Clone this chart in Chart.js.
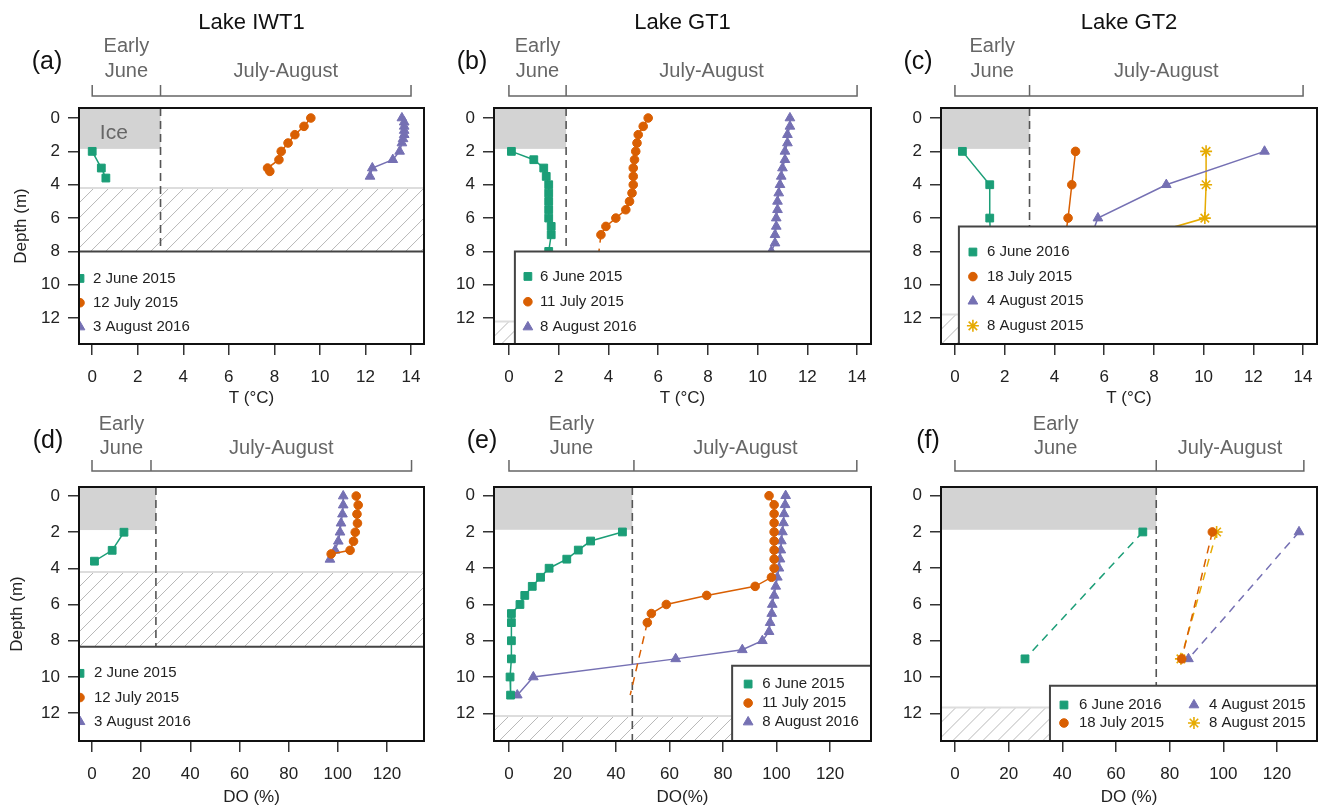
<!DOCTYPE html>
<html>
<head>
<meta charset="utf-8">
<script src="https://cdn.jsdelivr.net/npm/chart.js@4.4.1/dist/chart.umd.min.js"></script>
<style>
html, body { margin: 0; padding: 0; background: #fff; }
#wrap { position: relative; width: 1325px; height: 809px; }
#wrap canvas { position: absolute; left: 0; top: 0; }
</style>
</head>
<body>
<div id="wrap">
<canvas id="pa" width="1325" height="809"></canvas>
<canvas id="pb" width="1325" height="809"></canvas>
<canvas id="pc" width="1325" height="809"></canvas>
<canvas id="pd" width="1325" height="809"></canvas>
<canvas id="pe" width="1325" height="809"></canvas>
<canvas id="pf" width="1325" height="809"></canvas>
</div>
<script>
// tick labels
var tempTicks = [0, 2, 4, 6, 8, 10, 12, 14];
var doTicks = [0, 20, 40, 60, 80, 100, 120];
var depthTicks = [0, 2, 4, 6, 8, 10, 12];
var lakeNames = ["Lake IWT1", "Lake GT1", "Lake GT2"];

// (a) Lake IWT1, temperature
var iwtTempDepthJun = [2, 3, 3.6];
var iwtTempJun = [0.0, 0.4, 0.6];
var iwtTempDepthJul = [0, 0.5, 1, 1.5, 2, 2.5, 3, 3.2];
var iwtTempJul = [9.6, 9.3, 8.9, 8.6, 8.3, 8.2, 7.7, 7.8];
var iwtTempDepthAug = [0, 0.25, 0.5, 0.75, 1, 1.25, 1.5, 2, 2.5, 3, 3.5];
var iwtTempAug = [13.6, 13.7, 13.7, 13.7, 13.7, 13.65, 13.6, 13.5, 13.2, 12.3, 12.2];

// (b) Lake GT1, temperature
var gt1TempDepthJun = [2, 2.5, 3, 3.5, 4, 4.5, 5, 5.5, 6, 6.5, 7, 8];
var gt1TempJun = [0.1, 1.0, 1.4, 1.5, 1.6, 1.6, 1.6, 1.6, 1.6, 1.7, 1.7, 1.6];
var gt1TempDepthJul = [0, 0.5, 1, 1.5, 2, 2.5, 3, 3.5, 4, 4.5, 5, 5.5, 6, 6.5, 7, 9.5];
var gt1TempJul = [5.6, 5.4, 5.2, 5.15, 5.1, 5.05, 5.0, 5.0, 5.0, 4.95, 4.85, 4.7, 4.3, 3.9, 3.7, 3.5];
var gt1TempDepthAug = [0, 0.5, 1, 1.5, 2, 2.5, 3, 3.5, 4, 4.5, 5, 5.5, 6, 6.5, 7, 7.5, 8];
var gt1TempAug = [11.3, 11.3, 11.2, 11.2, 11.1, 11.1, 11.0, 10.95, 10.9, 10.85, 10.8, 10.8, 10.75, 10.75, 10.7, 10.7, 10.55];

// (c) Lake GT2, temperature
var gt2TempDepth = [2, 4, 6, 8];
var gt2TempJun = [0.3, 1.4, 1.4, 1.45];
var gt2TempJul = [4.85, 4.7, 4.55, 4.35];
var gt2TempAug4 = [12.45, 8.5, 5.75, 5.25];
var gt2TempAug8 = [10.1, 10.1, 10.05, 5.4];

// (d) Lake IWT1, dissolved oxygen
var iwtDoDepthJun = [2, 3, 3.6];
var iwtDoJun = [13, 8.2, 1];
var iwtDoDepthJul = [0, 0.5, 1, 1.5, 2, 2.5, 3, 3.2];
var iwtDoJul = [107.5, 108.3, 107.8, 108, 107.1, 106.4, 105, 97.3];
var iwtDoDepthAug = [0, 0.5, 1, 1.5, 2, 2.5, 3, 3.5];
var iwtDoAug = [102.2, 102.2, 101.9, 101.3, 100.9, 100.2, 98.9, 96.8];

// (e) Lake GT1, dissolved oxygen
var gt1DoDepthJun = [2, 2.5, 3, 3.5, 4, 4.5, 5, 5.5, 6, 6.5, 7, 8, 9, 10, 11];
var gt1DoJun = [42.4, 30.5, 25.9, 21.6, 15, 11.8, 8.7, 5.9, 4.1, 0.9, 0.9, 0.9, 0.9, 0.4, 0.6];
var gt1DoDepthJul = [0, 0.5, 1, 1.5, 2, 2.5, 3, 3.5, 4, 4.5, 5, 5.5, 6, 6.5, 7, 11];
var gt1DoJul = [97.2, 99.1, 99.1, 99.1, 99.1, 99.1, 99.1, 99.1, 99.1, 98.1, 92, 73.9, 58.8, 53.2, 51.7, 45.3];
var gt1DoDepthAug = [0, 0.5, 1, 1.5, 2, 2.5, 3, 3.5, 4, 4.5, 5, 5.5, 6, 6.5, 7, 7.5, 8, 8.5, 9, 10, 11];
var gt1DoAug = [103.4, 103.2, 102.8, 102.6, 102.2, 101.8, 101.6, 101.3, 100.9, 100.3, 99.7, 99.1, 98.4, 98.2, 97.6, 97.2, 94.7, 87.2, 62.3, 9.1, 3.1];

// (f) Lake GT2, dissolved oxygen
var gt2DoDepth = [2, 9];
var gt2DoJun = [70, 26.1];
var gt2DoJul = [95.9, 84.5];
var gt2DoAug4 = [128.2, 87];
var gt2DoAug8 = [97.5, 84.2];

var GREEN = "#1b9e77", ORANGE = "#d95f02", PURPLE = "#7570b3", YELLOW = "#e6ab02";
var FONT = '"Liberation Sans", Arial, Helvetica, sans-serif';
var RADIUS = { rect: 5.5, circle: 4.3, triangle: 5.6, star: 6 };

var rows = [
    { bOff: 12, earlyOff: 62, juneOff: 37, xTitleOff: 54 },
    { bOff: 16, earlyOff: 63, juneOff: 39, xTitleOff: 56 }
];

var panels = [
    {
        canvas: "pa", area: [79, 108, 424, 344], xr: [-0.58, 14.57], yr: [-0.6, 13.55], xTicks: tempTicks,
        title: lakeNames[0], tag: "(a)", tagX: 47, xTitle: "T (\u00b0C)", yTitle: "Depth (m)", yTitleX: 21, row: 0,
        split: 3, iceDepth: 1.85, iceLabel: true, hatch: 4.2, bracket: [0, 3, 14],
        legend: { x: null, y: 8, first: 27, step: 24.3, mdx: 1, tdx: 14, cols: 1 },
        series: [
            { label: "2 June 2015", d: iwtTempDepthJun, v: iwtTempJun, c: GREEN, m: "rect" },
            { label: "12 July 2015", d: iwtTempDepthJul, v: iwtTempJul, c: ORANGE, m: "circle" },
            { label: "3 August 2016", d: iwtTempDepthAug, v: iwtTempAug, c: PURPLE, m: "triangle" }
        ]
    },
    {
        canvas: "pb", area: [494, 108, 871, 344], xr: [-0.6, 14.56], yr: [-0.6, 13.55], xTicks: tempTicks,
        title: lakeNames[1], tag: "(b)", tagX: 472, xTitle: "T (\u00b0C)", row: 0,
        split: 2.3, iceDepth: 1.85, hatch: 12.2, bracket: [0, 2.3, 14],
        legend: { x: 0.24, y: 8, first: 25, step: 25.3, mdx: 13, tdx: 25, cols: 1 },
        series: [
            { label: "6 June 2015", d: gt1TempDepthJun, v: gt1TempJun, c: GREEN, m: "rect" },
            { label: "11 July 2015", d: gt1TempDepthJul, v: gt1TempJul, c: ORANGE, m: "circle", dashTail: true },
            { label: "8 August 2016", d: gt1TempDepthAug, v: gt1TempAug, c: PURPLE, m: "triangle" }
        ]
    },
    {
        canvas: "pc", area: [941, 108, 1317, 344], xr: [-0.56, 14.56], yr: [-0.6, 13.55], xTicks: tempTicks,
        title: lakeNames[2], tag: "(c)", tagX: 918, xTitle: "T (\u00b0C)", row: 0,
        split: 3, iceDepth: 1.85, hatch: 11.78, bracket: [0, 3, 14],
        legend: { x: 0.16, y: 6.5, first: 25.6, step: 24.6, mdx: 14, tdx: 28, cols: 1 },
        series: [
            { label: "6 June 2016", d: gt2TempDepth, v: gt2TempJun, c: GREEN, m: "rect" },
            { label: "18 July 2015", d: gt2TempDepth, v: gt2TempJul, c: ORANGE, m: "circle" },
            { label: "4 August 2015", d: gt2TempDepth, v: gt2TempAug4, c: PURPLE, m: "triangle" },
            { label: "8 August 2015", d: gt2TempDepth, v: gt2TempAug8, c: YELLOW, m: "star" }
        ]
    },
    {
        canvas: "pd", area: [79, 487, 424, 741], xr: [-5.29, 135.07], yr: [-0.5, 13.54], xTicks: doTicks,
        tag: "(d)", tagX: 48, xTitle: "DO (%)", yTitle: "Depth (m)", yTitleX: 17, row: 1,
        split: 26, iceDepth: 1.88, hatch: 4.2, bracket: [0, 24, 130],
        legend: { x: null, y: 8.33, first: 26.6, step: 24.2, mdx: 1, tdx: 15, cols: 1 },
        series: [
            { label: "2 June 2015", d: iwtDoDepthJun, v: iwtDoJun, c: GREEN, m: "rect" },
            { label: "12 July 2015", d: iwtDoDepthJul, v: iwtDoJul, c: ORANGE, m: "circle" },
            { label: "3 August 2016", d: iwtDoDepthAug, v: iwtDoAug, c: PURPLE, m: "triangle" }
        ]
    },
    {
        canvas: "pe", area: [494, 487, 871, 741], xr: [-5.6, 135.3], yr: [-0.48, 13.53], xTicks: doTicks,
        tag: "(e)", tagX: 482, xTitle: "DO(%)", row: 1,
        split: 46.1, iceDepth: 1.88, hatch: 12.15, bracket: [0, 46.7, 130],
        legend: { x: 83.4, y: 9.38, first: 18.3, step: 19, mdx: 16, tdx: 30, cols: 1 },
        series: [
            { label: "6 June 2015", d: gt1DoDepthJun, v: gt1DoJun, c: GREEN, m: "rect" },
            { label: "11 July 2015", d: gt1DoDepthJul, v: gt1DoJul, c: ORANGE, m: "circle", dashTail: true },
            { label: "8 August 2016", d: gt1DoDepthAug, v: gt1DoAug, c: PURPLE, m: "triangle" }
        ]
    },
    {
        canvas: "pf", area: [941, 487, 1317, 741], xr: [-5.2, 134.9], yr: [-0.48, 13.53], xTicks: doTicks,
        tag: "(f)", tagX: 928, xTitle: "DO (%)", row: 1,
        split: 75, iceDepth: 1.88, hatch: 11.68, bracket: [0, 75, 130],
        legend: { x: 35.4, y: 10.48, first: 19.3, step: 18, mdx: 14, tdx: 29, cols: 2, colW: 130 },
        series: [
            { label: "6 June 2016", d: gt2DoDepth, v: gt2DoJun, c: GREEN, m: "rect", dashed: true },
            { label: "18 July 2015", d: gt2DoDepth, v: gt2DoJul, c: ORANGE, m: "circle", dashed: true },
            { label: "4 August 2015", d: gt2DoDepth, v: gt2DoAug4, c: PURPLE, m: "triangle", dashed: true },
            { label: "8 August 2015", d: gt2DoDepth, v: gt2DoAug8, c: YELLOW, m: "star", dashed: true }
        ]
    }
];

function marker(ctx, style, color, x, y) {
    ctx.fillStyle = color;
    ctx.strokeStyle = color;
    ctx.lineWidth = style === "star" ? 1.6 : 1;
    ctx.setLineDash([]);
    Chart.helpers.drawPoint(ctx, { pointStyle: style, radius: RADIUS[style], rotation: 0, borderWidth: ctx.lineWidth }, x, y);
}

var panelDecor = {
    id: "panelDecor",
    beforeDatasetsDraw: function (chart, args, p) {
        var ctx = chart.ctx, a = chart.chartArea, xs = chart.scales.x, ys = chart.scales.y;
        ctx.save();
        ctx.beginPath();
        ctx.rect(a.left, a.top, a.right - a.left, a.bottom - a.top);
        ctx.clip();

        // hatched band
        var hy = ys.getPixelForValue(p.hatch);
        var h = a.bottom - hy;
        ctx.save();
        ctx.beginPath();
        ctx.rect(a.left, hy, a.right - a.left, h);
        ctx.clip();
        ctx.strokeStyle = "#b8b8b8";
        ctx.lineWidth = 1;
        ctx.beginPath();
        for (var s = a.left - h; s < a.right + 15; s += 15) {
            ctx.moveTo(s, a.bottom);
            ctx.lineTo(s + h, hy);
        }
        ctx.stroke();
        ctx.restore();
        ctx.strokeStyle = "#dddddd";
        ctx.lineWidth = 2;
        ctx.beginPath();
        ctx.moveTo(a.left, hy);
        ctx.lineTo(a.right, hy);
        ctx.stroke();

        // ice cover
        var sx = xs.getPixelForValue(p.split);
        var iy = ys.getPixelForValue(p.iceDepth);
        ctx.fillStyle = "#d3d3d3";
        ctx.fillRect(a.left, a.top, sx - a.left, iy - a.top);
        if (p.iceLabel) {
            ctx.fillStyle = "#666";
            ctx.font = "21px " + FONT;
            ctx.textAlign = "center";
            ctx.textBaseline = "middle";
            ctx.fillText("Ice", xs.getPixelForValue(0.95), ys.getPixelForValue(0.92));
        }

        // season split
        ctx.setLineDash([8, 5]);
        ctx.strokeStyle = "#555";
        ctx.lineWidth = 1.6;
        ctx.beginPath();
        ctx.moveTo(sx, a.top);
        ctx.lineTo(sx, a.bottom);
        ctx.stroke();
        ctx.restore();
    },
    afterDatasetsDraw: function (chart, args, p) {
        var ctx = chart.ctx, a = chart.chartArea, xs = chart.scales.x, ys = chart.scales.y;
        var L = p.legend;
        var lx = L.x === null ? a.left : xs.getPixelForValue(L.x);
        var ly = ys.getPixelForValue(L.y);

        ctx.save();
        ctx.beginPath();
        ctx.rect(a.left, a.top, a.right - a.left, a.bottom - a.top);
        ctx.clip();
        ctx.fillStyle = "#fff";
        ctx.fillRect(lx, ly, a.right - lx, a.bottom - ly);
        ctx.strokeStyle = "#444";
        ctx.lineWidth = 2;
        ctx.beginPath();
        ctx.moveTo(lx, a.bottom + 2);
        ctx.lineTo(lx, ly);
        ctx.lineTo(a.right, ly);
        ctx.stroke();

        var n = p.series.length;
        var perCol = Math.ceil(n / L.cols);
        p.series.forEach(function (s, i) {
            var col = Math.floor(i / perCol), row = i % perCol;
            var bx = lx + col * (L.colW || 0);
            var y = ly + L.first + row * L.step;
            marker(ctx, s.m, s.c, bx + L.mdx, y);
            ctx.fillStyle = "#222";
            ctx.font = "15px " + FONT;
            ctx.textAlign = "left";
            ctx.textBaseline = "middle";
            ctx.fillText(s.label, bx + L.tdx, y);
        });
        ctx.restore();

        // plot frame
        ctx.save();
        ctx.strokeStyle = "#111";
        ctx.lineWidth = 2;
        ctx.strokeRect(a.left, a.top, a.right - a.left, a.bottom - a.top);
        ctx.restore();
    },
    afterDraw: function (chart, args, p) {
        var ctx = chart.ctx, a = chart.chartArea, xs = chart.scales.x;
        var r = rows[p.row];
        ctx.save();
        ctx.textAlign = "center";
        ctx.textBaseline = "middle";

        if (p.title) {
            ctx.fillStyle = "#111";
            ctx.font = "22px " + FONT;
            ctx.fillText(p.title, (a.left + a.right) / 2, 23);
        }
        ctx.fillStyle = "#111";
        ctx.font = "25px " + FONT;
        ctx.fillText(p.tag, p.tagX, a.top - 46);

        // season bracket
        var b = p.bracket.map(function (v) { return xs.getPixelForValue(v); });
        var by = a.top - r.bOff;
        ctx.strokeStyle = "#666";
        ctx.lineWidth = 1.5;
        ctx.beginPath();
        ctx.moveTo(b[0], by - 11);
        ctx.lineTo(b[0], by);
        ctx.lineTo(b[2], by);
        ctx.lineTo(b[2], by - 11);
        ctx.moveTo(b[1], by);
        ctx.lineTo(b[1], by - 11);
        ctx.stroke();
        ctx.fillStyle = "#666";
        ctx.font = "20px " + FONT;
        ctx.fillText("Early", (b[0] + b[1]) / 2, a.top - r.earlyOff);
        ctx.fillText("June", (b[0] + b[1]) / 2, a.top - r.juneOff);
        ctx.fillText("July-August", (b[1] + b[2]) / 2, a.top - r.juneOff);

        // axis titles
        ctx.fillStyle = "#222";
        ctx.font = "17px " + FONT;
        ctx.fillText(p.xTitle, (a.left + a.right) / 2, a.bottom + r.xTitleOff);
        if (p.yTitle) {
            ctx.translate(p.yTitleX, (a.top + a.bottom) / 2);
            ctx.rotate(-Math.PI / 2);
            ctx.fillText(p.yTitle, 0, 0);
        }
        ctx.restore();
    }
};

function axisGrid() {
    return { drawOnChartArea: false, drawTicks: true, tickLength: 11, color: "#333", lineWidth: 1.5 };
}

panels.forEach(function (p) {
    var datasets = p.series.map(function (s) {
        var n = s.d.length;
        return {
            label: s.label,
            data: s.d.map(function (depth, k) { return { x: s.v[k], y: depth }; }),
            showLine: true,
            borderColor: s.c,
            backgroundColor: s.c,
            pointBackgroundColor: s.c,
            pointBorderColor: s.c,
            pointStyle: s.m,
            pointBorderWidth: s.m === "star" ? 1.6 : 1,
            pointRadius: function (c) { return s.dashTail && c.dataIndex === n - 1 ? 0 : RADIUS[s.m]; },
            borderWidth: 1.5,
            borderDash: s.dashed ? [8, 6] : [],
            segment: {
                borderDash: function (c) { return s.dashTail && c.p1DataIndex === n - 1 ? [8, 6] : undefined; }
            }
        };
    });

    new Chart(document.getElementById(p.canvas), {
        type: "scatter",
        data: { datasets: datasets },
        options: {
            responsive: false,
            animation: false,
            layout: {
                padding: { left: p.area[0] - 40, top: p.area[1], right: 1325 - p.area[2], bottom: 809 - p.area[3] - 50 }
            },
            plugins: {
                legend: { display: false },
                tooltip: { enabled: false },
                panelDecor: p
            },
            scales: {
                x: {
                    type: "linear",
                    min: p.xr[0],
                    max: p.xr[1],
                    afterFit: function (sc) { sc.height = 50; },
                    afterBuildTicks: function (sc) { sc.ticks = p.xTicks.map(function (v) { return { value: v }; }); },
                    ticks: { autoSkip: false, maxRotation: 0, padding: 12, color: "#222", font: { family: FONT, size: 17 } },
                    grid: axisGrid(),
                    border: { display: false }
                },
                y: {
                    type: "linear",
                    reverse: true,
                    min: p.yr[0],
                    max: p.yr[1],
                    afterFit: function (sc) { sc.width = 40; },
                    afterBuildTicks: function (sc) { sc.ticks = depthTicks.map(function (v) { return { value: v }; }); },
                    ticks: { autoSkip: false, padding: 8, color: "#222", font: { family: FONT, size: 17 } },
                    grid: axisGrid(),
                    border: { display: false }
                }
            }
        },
        plugins: [panelDecor]
    });
});
</script>
</body>
</html>
